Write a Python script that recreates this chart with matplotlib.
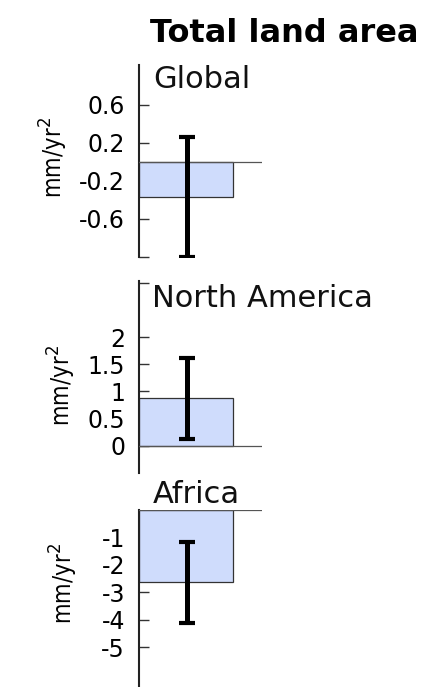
import matplotlib
matplotlib.use("Agg")
import matplotlib.pyplot as plt

# Trend in land water storage (mm/yr^2) with uncertainty ranges
regions = ["Global", "North America", "Africa"]
means = [-0.37, 0.87, -2.63]
errors = [0.63, 0.75, 1.48]

tick_values = [
    [0.6, 0.2, -0.2, -0.6, -1.0],
    [3.0, 2.0, 1.5, 1.0, 0.5, 0.0],
    [-1, -2, -3, -4, -5],
]
tick_labels = [
    ["0.6", "0.2", "-0.2", "-0.6", ""],
    ["", "2", "1.5", "1", "0.5", "0"],
    ["-1", "-2", "-3", "-4", "-5"],
]
y_limits = [(-1.0, 1.02), (-0.5, 3.03), (-6.45, 0.0)]

title = "Total land area"
unit_label = "mm/yr$^2$"

W, H = 428, 687
fig = plt.figure(figsize=(W / 100, H / 100), dpi=100)

# axes boxes in pixels: left, top, right, bottom
boxes = [(139, 65, 262, 257), (139, 281, 262, 473), (139, 510, 262, 687)]
name_pos = [(153, 88), (152, 307), (153, 503)]
unit_pos = [(54, 157), (62, 385), (64, 583)]

bar_color = "#cfdcfc"

for i, region in enumerate(regions):
    l, t, r, b = boxes[i]
    ax = fig.add_axes([l / W, 1 - b / H, (r - l) / W, (b - t) / H])
    ax.set_xlim(0, 1)
    ax.set_ylim(*y_limits[i])
    ax.bar([0.382], [means[i]], width=0.764, color=bar_color,
           edgecolor="#333333", linewidth=0.9, zorder=2)
    ax.axhline(0, color="#555555", linewidth=0.9, zorder=3)
    ax.errorbar([0.39], [means[i]], yerr=[errors[i]], fmt="none",
                ecolor="black", elinewidth=3.6, capsize=6, capthick=3,
                zorder=4)
    for s in ("top", "right", "bottom"):
        ax.spines[s].set_visible(False)
    ax.spines["left"].set_linewidth(1.5)
    ax.spines["left"].set_color("#222222")
    ax.set_xticks([])
    ax.set_yticks(tick_values[i])
    ax.set_yticklabels(tick_labels[i])
    ax.tick_params(axis="y", direction="in", length=7, width=1,
                   color="#333333", pad=10, labelsize=17)
    ax.patch.set_alpha(0)

    x, y = name_pos[i]
    fig.text(x / W, 1 - y / H, region, fontsize=22, ha="left",
             va="baseline", color="#111111")
    ux, uy = unit_pos[i]
    fig.text(ux / W, 1 - uy / H, unit_label, fontsize=17, rotation=90,
             ha="center", va="center", fontstretch="condensed")

fig.text(284 / W, 1 - 33 / H, title, fontsize=23, fontweight="heavy",
         ha="center", va="center")

fig.savefig("out.png", dpi=100)
